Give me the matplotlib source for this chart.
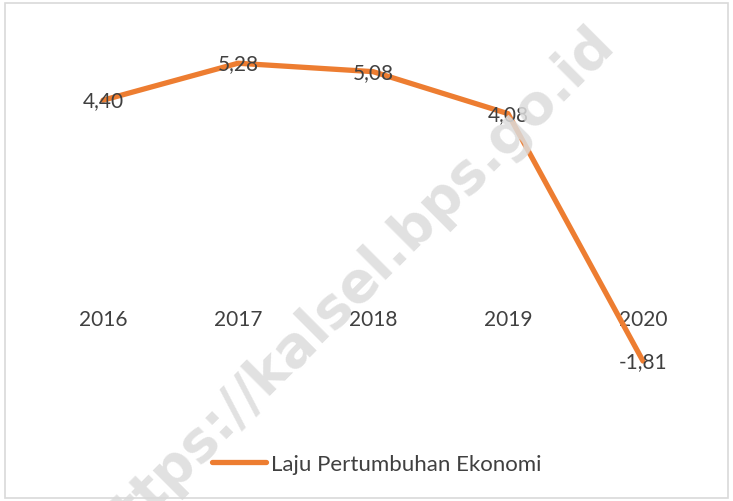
import matplotlib.pyplot as plt
from matplotlib.patches import Rectangle

# data
years = ["2016", "2017", "2018", "2019", "2020"]
growth = [4.40, 5.28, 5.08, 4.08, -1.81]
series_name = "Laju Pertumbuhan Ekonomi"

orange = "#ED7D31"
text_col = "#404040"
plt.rcParams['font.family'] = ['Lato', 'DejaVu Sans']

fig = plt.figure(figsize=(7.33, 5.02), dpi=100)
W, H = 733, 502
# plot area: x from 35.5 to 710.5 px, y from 34 (6) to 370 (-2)
ax = fig.add_axes([35.5 / W, 1 - 370 / H, 675 / W, 336 / H])
ax.set_xlim(-0.5, len(years) - 0.5)
ax.set_ylim(-2, 6)

xs = list(range(len(years)))
line, = ax.plot(xs, growth, color=orange, lw=3.8, solid_capstyle='round',
                solid_joinstyle='round', zorder=3, label=series_name)

for x, v in zip(xs, growth):
    lbl = f"{v:.2f}".replace(".", ",")
    ax.text(x, v, lbl, ha='center', va='center', fontsize=15, color=text_col, zorder=4)

ax.set_xticks(xs)
ax.set_xticklabels(years)
ax.set_yticks([])
for s in ['top', 'right', 'left']:
    ax.spines[s].set_visible(False)
ax.spines['bottom'].set_position(('data', 0))
ax.spines['bottom'].set_visible(False)
ax.tick_params(axis='x', length=0, pad=17, labelsize=15, labelcolor=text_col)
ax.patch.set_alpha(0)

# watermark
fig.text(350 / W, 1 - 290 / H, "https://kalsel.bps.go.id", rotation=45,
         ha='center', va='center', fontsize=40, fontweight='bold',
         color='#dcdcdc', alpha=0.85, zorder=0, family='DejaVu Sans')

leg = fig.legend(handles=[line], loc='center', bbox_to_anchor=(377 / W, 1 - 465 / H),
                 frameon=False, fontsize=16, handlelength=2.4, handletextpad=0.25)
for t in leg.get_texts():
    t.set_color(text_col)

# chart border
fig.patches.append(Rectangle((5 / W, 3 / H), 723 / W, 495 / H, transform=fig.transFigure,
                             fill=False, edgecolor='#d9d9d9', lw=1.2))

fig.savefig("out.png", dpi=100)
